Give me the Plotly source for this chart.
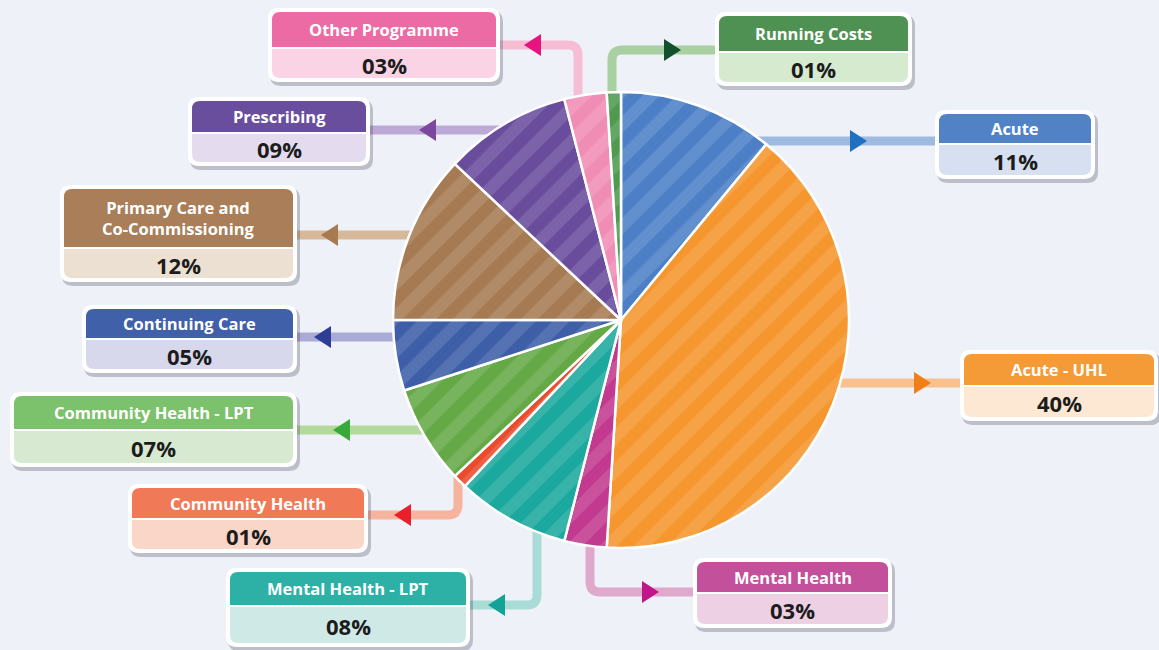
import plotly.graph_objects as go

# ---------------- data ----------------
categories = ["Acute", "Acute - UHL", "Mental Health", "Mental Health - LPT",
              "Community Health", "Community Health - LPT", "Continuing Care",
              "Primary Care and Co-Commissioning", "Prescribing",
              "Other Programme", "Running Costs"]
values = [11, 40, 3, 8, 1, 7, 5, 12, 9, 3, 1]
header_labels = ["Acute", "Acute - UHL", "Mental Health", "Mental Health - LPT",
                 "Community Health", "Community Health - LPT", "Continuing Care",
                 "Primary Care and<br>Co-Commissioning", "Prescribing",
                 "Other Programme", "Running Costs"]

# ---------------- styles ----------------
slice_colors = ["#4c7fc6", "#f5962f", "#c23a90", "#1ba89e", "#ea4b2c", "#65a947",
                "#3e5ea8", "#a67b53", "#6a4c9c", "#f08db5", "#4f9a4f"]
header_colors = ["#5282c6", "#f49a36", "#c3509a", "#2db1a7", "#f07a58", "#7cc16b",
                 "#4060aa", "#a97e58", "#6a4e9e", "#ec6ba5", "#4f9153"]
body_colors = ["#d7e0f0", "#fde8d3", "#edd0e3", "#cfe9e6", "#fad6c8", "#d7e9d0",
               "#d8d8ec", "#ece0d3", "#e4dcee", "#fad4e4", "#d6ead0"]
conn_colors = ["#9fbae0", "#f8c290", "#e0a9cc", "#a9dcd7", "#f6b49f", "#b4d99c",
               "#a9aad6", "#d5b99a", "#bda9d5", "#f6bdd4", "#a9d0a1"]
arrow_colors = ["#1f70c0", "#f07f1a", "#c0168a", "#13a396", "#e8202a", "#39aa3a",
                "#2c3e96", "#a87a4f", "#7d47a0", "#e8137f", "#13502c"]
BG = "#eef2f8"

# box geometry (x0, y0, x1, y1, header bottom) in pixels
boxes = [
    (935, 110, 1095, 179, 143),
    (960, 350, 1158, 421, 385),
    (693, 558, 892, 628, 592),
    (226, 568, 470, 647, 605),
    (128, 484, 368, 553, 518),
    (10, 392, 297, 467, 429),
    (82, 305, 297, 373, 338),
    (60, 185, 297, 282, 247),
    (188, 97, 370, 166, 132),
    (268, 8, 500, 82, 47),
    (715, 12, 912, 86, 51),
]
connectors = [
    [(937, 141), (650, 141)],
    [(962, 383), (700, 383)],
    [(695, 592), (590, 592), (590, 420)],
    [(470, 605), (537, 605), (537, 420)],
    [(368, 515), (458, 515), (458, 420)],
    [(297, 430), (500, 430)],
    [(297, 337), (500, 337)],
    [(297, 235), (500, 235)],
    [(370, 130), (560, 130)],
    [(500, 45), (578, 45), (578, 200)],
    [(718, 50), (612, 50), (612, 200)],
]
arrows = [(858, 141, 1), (922, 383, 1), (650, 592, 1), (497, 605, -1),
          (403, 515, -1), (342, 430, -1), (323, 337, -1), (330, 235, -1),
          (428, 130, -1), (533, 45, -1), (672, 50, 1)]

W, H = 1159, 650
CX, CY, R = 621, 320, 228


def rpath(x0, y0, x1, y1, tl=0, tr=0, br=0, bl=0):
    return (f"M{x0+tl},{y0} L{x1-tr},{y0} Q{x1},{y0} {x1},{y0+tr} "
            f"L{x1},{y1-br} Q{x1},{y1} {x1-br},{y1} L{x0+bl},{y1} "
            f"Q{x0},{y1} {x0},{y1-bl} L{x0},{y0+tl} Q{x0},{y0} {x0+tl},{y0} Z")


def conn_path(pts, rad=10):
    d = f"M{pts[0][0]},{pts[0][1]}"
    for i in range(1, len(pts) - 1):
        (xa, ya), (xb, yb), (xc, yc) = pts[i-1], pts[i], pts[i+1]
        def toward(p, q, dist):
            dx, dy = q[0]-p[0], q[1]-p[1]
            L = (dx*dx+dy*dy) ** 0.5
            return p[0]+dx/L*dist, p[1]+dy/L*dist
        p1 = toward((xb, yb), (xa, ya), rad)
        p2 = toward((xb, yb), (xc, yc), rad)
        d += f" L{p1[0]},{p1[1]} Q{xb},{yb} {p2[0]},{p2[1]}"
    d += f" L{pts[-1][0]},{pts[-1][1]}"
    return d


shapes = []
annotations = []

for i in range(len(categories)):
    shapes.append(dict(type="path", xref="x", yref="y", layer="below",
                       path=conn_path(connectors[i]),
                       line=dict(color=conn_colors[i], width=9)))
    ax, ay, dr = arrows[i]
    shapes.append(dict(type="path", xref="x", yref="y", layer="below",
                       path=f"M{ax-8*dr},{ay-11} L{ax+9*dr},{ay} L{ax-8*dr},{ay+11} Z",
                       fillcolor=arrow_colors[i], line=dict(width=0)))
    x0, y0, x1, y1, hb = boxes[i]
    shapes.append(dict(type="path", xref="x", yref="y", layer="below",
                       path=rpath(x0+2, y0+3, x1+3, y1+4, 11, 11, 11, 11),
                       fillcolor="rgba(60,60,80,0.28)", line=dict(width=0)))
    shapes.append(dict(type="path", xref="x", yref="y", layer="below",
                       path=rpath(x0, y0, x1, y1, 11, 11, 11, 11),
                       fillcolor="white", line=dict(width=0)))
    shapes.append(dict(type="path", xref="x", yref="y", layer="below",
                       path=rpath(x0+4, hb+2, x1-4, y1-4, 0, 0, 8, 8),
                       fillcolor=body_colors[i], line=dict(width=0)))
    shapes.append(dict(type="path", xref="x", yref="y", layer="below",
                       path=rpath(x0+4, y0+4, x1-4, hb, 8, 8, 0, 0),
                       fillcolor=header_colors[i], line=dict(width=0)))
    annotations.append(dict(xref="x", yref="y", x=(x0+x1)/2, y=(y0+4+hb)/2,
                            text=f"<b>{header_labels[i]}</b>", showarrow=False,
                            font=dict(family="Open Sans", size=16.5, color="white"),
                            xanchor="center", yanchor="middle"))
    annotations.append(dict(xref="x", yref="y", x=(x0+x1)/2, y=(hb+2+y1-4)/2 + 1,
                            text=f"<b>{values[i]:02d}%</b>", showarrow=False,
                            font=dict(family="Open Sans", size=22, color="#1c1c1c"),
                            xanchor="center", yanchor="middle"))

pie = go.Pie(
    labels=categories, values=values, sort=False, direction="clockwise",
    rotation=0, textinfo="none", hoverinfo="label+percent", showlegend=False,
    domain=dict(x=[(CX-R)/W, (CX+R)/W], y=[1-(CY+R)/H, 1-(CY-R)/H]),
    marker=dict(colors=slice_colors, line=dict(color="white", width=2.5),
                pattern=dict(shape="/", fgcolor="white", fgopacity=0.12,
                             size=24, solidity=0.5, fillmode="overlay")),
)

fig = go.Figure(pie)
fig.update_layout(
    width=W, height=H, margin=dict(l=0, r=0, t=0, b=0),
    paper_bgcolor=BG, plot_bgcolor=BG,
    xaxis=dict(range=[0, W], visible=False, fixedrange=True),
    yaxis=dict(range=[H, 0], visible=False, fixedrange=True),
    shapes=shapes, annotations=annotations,
)
fig.write_html("out.html", config={"displayModeBar": False},
               post_script="document.body.style.margin='0px';"
                           "document.body.style.background='" + BG + "';")
